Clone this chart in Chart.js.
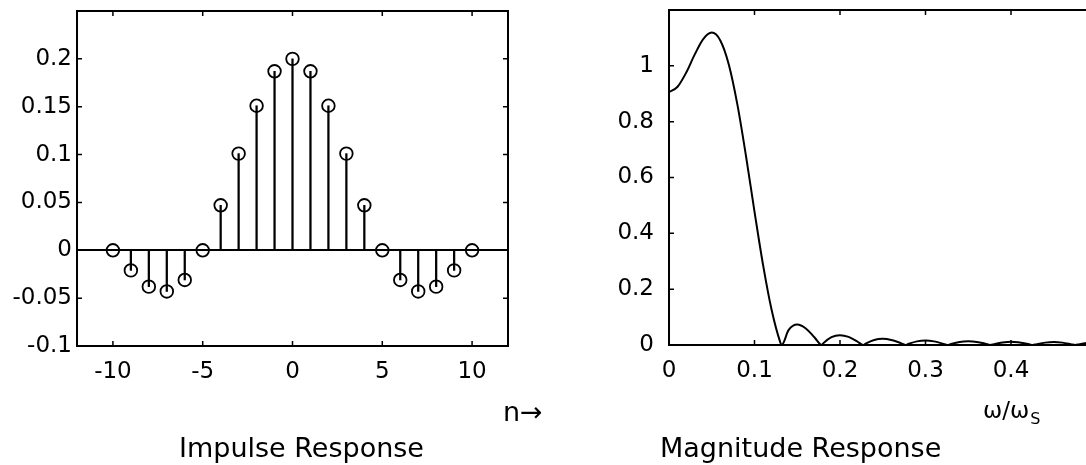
<!DOCTYPE html>
<html><head><meta charset="utf-8">
<script src="https://cdn.jsdelivr.net/npm/chart.js@4/dist/chart.umd.min.js"></script>
<style>
html,body{margin:0;padding:0;background:#fff;overflow:hidden;width:1086px;height:465px;}
#a{position:absolute;left:0;top:0;width:560px;height:465px;}
#b{position:absolute;left:560px;top:0;width:560px;height:465px;}
</style></head><body>
<div id="a"><canvas id="ca"></canvas></div>
<div id="b"><canvas id="cb"></canvas></div>
<script>
// ---- data ----
const nValues = [-10,-9,-8,-7,-6,-5,-4,-3,-2,-1,0,1,2,3,4,5,6,7,8,9,10];
const impulse = [0,-0.021,-0.038,-0.043,-0.031,0,0.047,0.101,0.151,0.187,0.2,0.187,0.151,0.101,0.047,0,-0.031,-0.043,-0.038,-0.021,0];
const impulseXTicks = [-10,-5,0,5,10];
const impulseYTicks = [-0.1,-0.05,0,0.05,0.1,0.15,0.2,0.25];
const impulseYLabels = ['-0.1','-0.05','0','0.05','0.1','0.15','0.2',''];

const freqs = [0,0.01,0.02,0.03,0.04,0.05,0.06,0.07,0.08,0.09,0.10,0.11,0.12,0.13,0.1317,0.14,0.15,0.16,0.17,0.1786,0.18,0.19,0.20,0.21,0.22,0.2273,0.23,0.24,0.25,0.26,0.27,0.2766,0.28,0.29,0.30,0.31,0.32,0.3259,0.33,0.34,0.35,0.36,0.37,0.3758,0.38,0.39,0.40,0.41,0.42,0.4255,0.43,0.44,0.45,0.46,0.47,0.475,0.48,0.49,0.50];
const magnitude = [0.906,0.925,0.975,1.040,1.096,1.119,1.091,1.004,0.861,0.678,0.478,0.287,0.126,0.011,0,0.054,0.073,0.059,0.028,0,0.005,0.028,0.035,0.029,0.013,0,0.005,0.018,0.022,0.018,0.008,0,0.004,0.013,0.016,0.013,0.005,0,0.004,0.011,0.013,0.011,0.0045,0,0.003,0.009,0.012,0.009,0.004,0,0.003,0.0085,0.0105,0.0085,0.003,0,0.003,0.008,0.010];
const magXTicks = [0,0.1,0.2,0.3,0.4,0.5];
const magXLabels = ['0','0.1','0.2','0.3','0.4',''];
const magYTicks = [0,0.2,0.4,0.6,0.8,1,1.2];
const magYLabels = ['0','0.2','0.4','0.6','0.8','1',''];

const leftCaption = 'Impulse Response';
const leftAxisLabel = 'n\u2192';
const rightCaption = 'Magnitude Response';
const rightAxisLabel = '\u03C9/\u03C9';
const rightAxisSub = 'S';

// ---- helpers ----
const FONT = 'DejaVu Sans';
function setTicks(vals){ return function(scale){ scale.ticks = vals.map(v=>({value:v})); }; }
function labelFrom(vals, labels){ return function(v){ const i = vals.findIndex(t=>Math.abs(t-v)<1e-9); return i<0?'':labels[i]; }; }
function fitY(width){ return function(s){ s.width = width; s.paddingTop = 0; s.paddingBottom = 0; }; }
function fitX(height){ return function(s){ s.height = height; s.paddingLeft = 0; s.paddingRight = 0; }; }

const frameTicks = {
  id:'frameTicks',
  afterDatasetsDraw(chart, args, opts){
    const {ctx, chartArea:a, scales} = chart;
    ctx.save();
    ctx.strokeStyle = '#000';
    ctx.lineWidth = 1.5;
    const L = 5;
    ctx.beginPath();
    scales.x.ticks.forEach(t=>{
      const px = scales.x.getPixelForValue(t.value);
      if (px <= a.left+1 || px >= a.right-1) return;
      ctx.moveTo(px, a.bottom); ctx.lineTo(px, a.bottom-L);
      ctx.moveTo(px, a.top); ctx.lineTo(px, a.top+L);
    });
    scales.y.ticks.forEach(t=>{
      const py = scales.y.getPixelForValue(t.value);
      if (py <= a.top+1 || py >= a.bottom-1) return;
      ctx.moveTo(a.left, py); ctx.lineTo(a.left+L, py);
      ctx.moveTo(a.right, py); ctx.lineTo(a.right-L, py);
    });
    ctx.stroke();
    ctx.lineWidth = 2;
    ctx.strokeRect(a.left, a.top, a.right-a.left, a.bottom-a.top);
    ctx.restore();
  },
  afterDraw(chart, args, opts){
    const ctx = chart.ctx;
    ctx.save();
    ctx.fillStyle = '#000';
    ctx.textBaseline = 'alphabetic';
    (opts.captions||[]).forEach(c=>{
      ctx.font = c.size + 'px "' + FONT + '"';
      ctx.textAlign = 'left';
      ctx.fillText(c.text, c.x, c.y);
      if (c.sub){
        const w = ctx.measureText(c.text).width;
        ctx.font = c.subSize + 'px "' + FONT + '"';
        ctx.fillText(c.sub, c.x + w + 1, c.y + c.subDy);
      }
    });
    ctx.restore();
  }
};

const tickFont = {family: FONT, size: 23};

new Chart(document.getElementById('ca'), {
  type: 'bar',
  data: {
    datasets: [
      {type:'scatter', data: nValues.map((n,i)=>({x:n,y:impulse[i]})), pointStyle:'circle', pointRadius:6.3, pointBorderWidth:1.8, pointBorderColor:'#000', pointBackgroundColor:'rgba(0,0,0,0)', order:0},
      {type:'bar', data: nValues.map((n,i)=>({x:n,y:impulse[i]})), backgroundColor:'#000', borderWidth:0, barThickness:1.6, order:1}
    ]
  },
  options: {
    responsive:true, maintainAspectRatio:false, animation:false,
    layout:{padding:{left:0,right:52,top:11,bottom:0}},
    plugins:{legend:{display:false}, tooltip:{enabled:false},
      frameTicks:{captions:[
        {text:leftAxisLabel, x:503, y:421, size:27},
        {text:leftCaption, x:179, y:457, size:27}
      ]}},
    scales:{
      x:{type:'linear', min:-12, max:12, offset:false,
        afterBuildTicks:setTicks(impulseXTicks),
        afterFit:fitX(119),
        grid:{display:false}, border:{display:false},
        ticks:{color:'#000', font:tickFont, padding:4, maxRotation:0, autoSkip:false,
          callback:(v)=>String(v)}},
      y:{type:'linear', min:-0.1, max:0.25,
        afterBuildTicks:setTicks(impulseYTicks),
        afterFit:fitY(77),
        grid:{drawTicks:false, lineWidth:2, color:(c)=> (c.tick && Math.abs(c.tick.value)<1e-9) ? '#000' : 'rgba(0,0,0,0)'},
        border:{display:false},
        ticks:{color:'#000', font:tickFont, padding:5, autoSkip:false, callback:labelFrom(impulseYTicks, impulseYLabels)}}
    }
  },
  plugins:[frameTicks]
});

new Chart(document.getElementById('cb'), {
  type: 'line',
  data: {
    datasets: [
      {data: freqs.map((f,i)=>({x:f,y:magnitude[i]})), borderColor:'#000', borderWidth:2, pointRadius:0, fill:false, cubicInterpolationMode:'monotone'}
    ]
  },
  options: {
    responsive:true, maintainAspectRatio:false, animation:false,
    layout:{padding:{left:0,right:23.5,top:10,bottom:0}},
    plugins:{legend:{display:false}, tooltip:{enabled:false},
      frameTicks:{captions:[
        {text:rightAxisLabel, x:423, y:418, size:23, sub:rightAxisSub, subSize:16, subDy:6},
        {text:rightCaption, x:100, y:457, size:27}
      ]}},
    scales:{
      x:{type:'linear', min:0, max:0.5,
        afterBuildTicks:setTicks(magXTicks),
        afterFit:fitX(120),
        grid:{display:false}, border:{display:false},
        ticks:{color:'#000', font:tickFont, padding:4, maxRotation:0, autoSkip:false, callback:labelFrom(magXTicks, magXLabels)}},
      y:{type:'linear', min:0, max:1.2,
        afterBuildTicks:setTicks(magYTicks),
        afterFit:fitY(109),
        grid:{display:false}, border:{display:false},
        ticks:{color:'#000', font:tickFont, padding:7, autoSkip:false, callback:labelFrom(magYTicks, magYLabels)}}
    }
  },
  plugins:[frameTicks]
});
</script>
</body></html>
